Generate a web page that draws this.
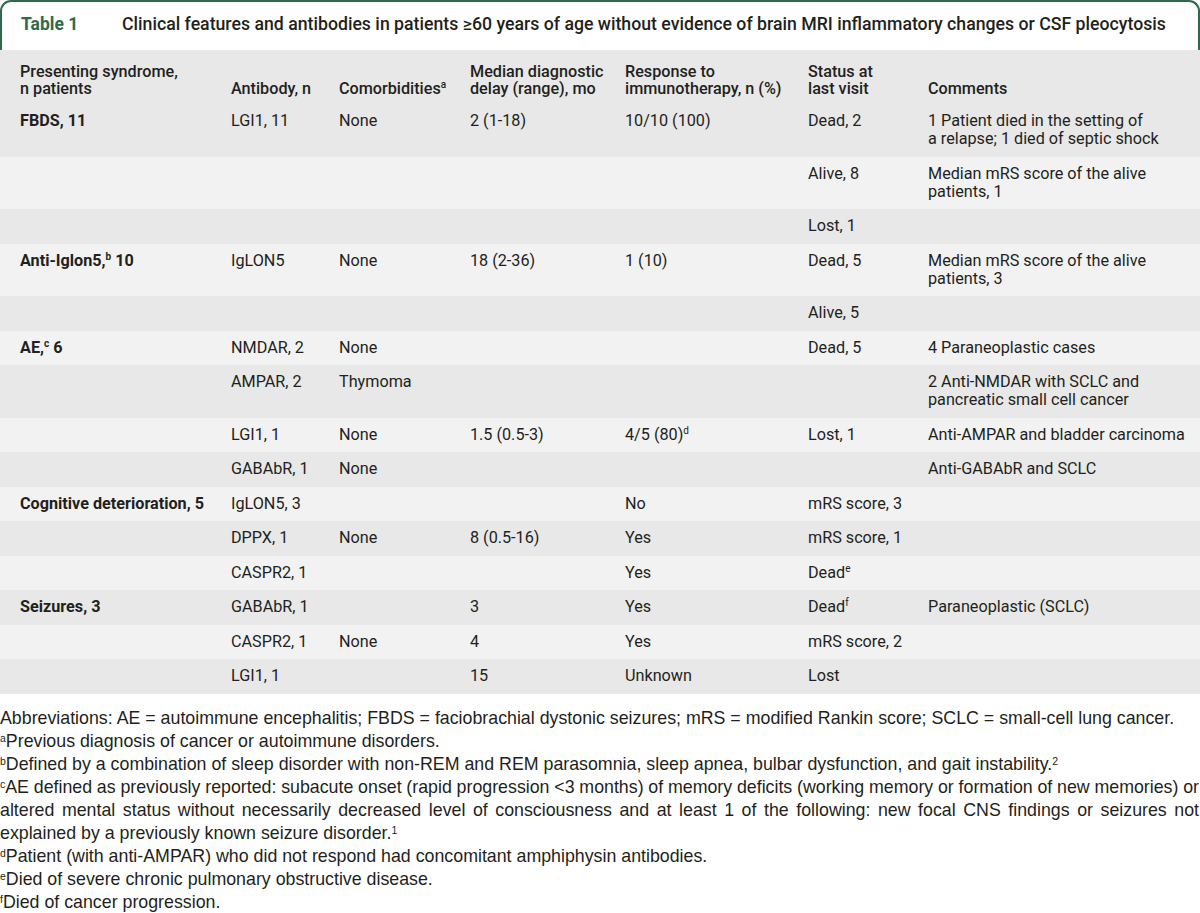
<!DOCTYPE html>
<html>
<head>
<meta charset="utf-8">
<script src="https://cdn.jsdelivr.net/npm/chart.js@4.4.1/dist/chart.umd.min.js"></script>
<style>
  html, body { margin: 0; padding: 0; background: #fff; }
  body { width: 1200px; height: 913px; overflow: hidden; font-family: Roboto, "Noto Sans", sans-serif; color: #231f20; }
  .title {
    box-sizing: border-box; height: 50px; border: 2px solid #2f6b4b; border-bottom: none;
    border-radius: 11px 11px 0 0; position: relative;
  }
  .title .num { position: absolute; left: 19px; top: 12px; color: #2f6b4b; font-weight: 700; font-size: 17.5px; }
  .title .txt { position: absolute; left: 120px; top: 12px; font-weight: 500; font-size: 17.7px; }
  table { border-collapse: collapse; table-layout: fixed; width: 1200px; font-size: 16.2px; }
  td, th { padding: 8px 0 8.5px 0; line-height: 18px; vertical-align: top; text-align: left; font-weight: 400; white-space: nowrap; }
  th { font-weight: 500; vertical-align: bottom; padding: 13px 0 7px 0; line-height: 17px; }
  td:first-child, th:first-child { padding-left: 20px; }
  tr:nth-child(odd) { background: #e7e8e7; }
  tr:nth-child(even) { background: #f2f2f2; }
  td.syn { font-weight: 700; }
  sup { font-size: 10px; line-height: 0; vertical-align: 6px; }
  .notes { margin-top: 13px; font-family: "Liberation Sans", Arial, sans-serif; font-size: 17.8px; line-height: 23px; color: #231f20; }
  .notes p { margin: 0; }
  .notes .jl { display: block; width: 1199px; white-space: nowrap; text-align: justify; text-align-last: justify; }
  .notes .jl.first { word-spacing: -1px; }
  .notes .jl.last { text-align: left; text-align-last: auto; }
  .notes sup { font-size: 10.5px; vertical-align: 5px; }
</style>
</head>
<body>
<div class="title"><span class="num">Table 1</span><span class="txt" id="ttl"></span></div>
<table id="tbl">
  <colgroup>
    <col style="width:231px"><col style="width:108px"><col style="width:131px"><col style="width:155px">
    <col style="width:183px"><col style="width:120px"><col style="width:272px">
  </colgroup>
  <thead></thead>
  <tbody></tbody>
</table>
<div class="notes" id="notes"></div>
<script>
const titleText = 'Clinical features and antibodies in patients \u226560 years of age without evidence of brain MRI inflammatory changes or CSF pleocytosis';

const headers = ['Presenting syndrome,<br>n patients', 'Antibody, n', 'Comorbidities<sup>a</sup>',
  'Median diagnostic<br>delay (range), mo', 'Response to<br>immunotherapy, n (%)', 'Status at<br>last visit', 'Comments'];

// one entry per table row
const syndromes = ['FBDS, 11', '', '', 'Anti-Iglon5,<sup>b</sup> 10', '', 'AE,<sup>c</sup> 6', '', '', '',
  'Cognitive deterioration, 5', '', '', 'Seizures, 3', '', ''];
const antibodies = ['LGI1, 11', '', '', 'IgLON5', '', 'NMDAR, 2', 'AMPAR, 2', 'LGI1, 1', 'GABAbR, 1',
  'IgLON5, 3', 'DPPX, 1', 'CASPR2, 1', 'GABAbR, 1', 'CASPR2, 1', 'LGI1, 1'];
const comorbidities = ['None', '', '', 'None', '', 'None', 'Thymoma', 'None', 'None',
  '', 'None', '', '', 'None', ''];
const delays = ['2 (1-18)', '', '', '18 (2-36)', '', '', '', '1.5 (0.5-3)', '',
  '', '8 (0.5-16)', '', '3', '4', '15'];
const responses = ['10/10 (100)', '', '', '1 (10)', '', '', '', '4/5 (80)<sup>d</sup>', '',
  'No', 'Yes', 'Yes', 'Yes', 'Yes', 'Unknown'];
const statuses = ['Dead, 2', 'Alive, 8', 'Lost, 1', 'Dead, 5', 'Alive, 5', 'Dead, 5', '', 'Lost, 1', '',
  'mRS score, 3', 'mRS score, 1', 'Dead<sup>e</sup>', 'Dead<sup>f</sup>', 'mRS score, 2', 'Lost'];
const comments = ['1 Patient died in the setting of<br>a relapse; 1 died of septic shock',
  'Median mRS score of the alive<br>patients, 1', '', 'Median mRS score of the alive<br>patients, 3', '',
  '4 Paraneoplastic cases', '2 Anti-NMDAR with SCLC and<br>pancreatic small cell cancer',
  'Anti-AMPAR and bladder carcinoma', 'Anti-GABAbR and SCLC', '', '', '', 'Paraneoplastic (SCLC)', '', ''];

// footnote c is split into its three printed lines (justified like the journal)
const footnoteC = [
  '<sup>c</sup>AE defined as previously reported: subacute onset (rapid progression &lt;3 months) of memory deficits (working memory or formation of new memories) or',
  'altered mental status without necessarily decreased level of consciousness and at least 1 of the following: new focal CNS findings or seizures not',
  'explained by a previously known seizure disorder.<sup>1</sup>'
];
const footnotes = [
  'Abbreviations: AE = autoimmune encephalitis; FBDS = faciobrachial dystonic seizures; mRS = modified Rankin score; SCLC = small-cell lung cancer.',
  '<sup>a</sup>Previous diagnosis of cancer or autoimmune disorders.',
  '<sup>b</sup>Defined by a combination of sleep disorder with non-REM and REM parasomnia, sleep apnea, bulbar dysfunction, and gait instability.<sup>2</sup>',
  footnoteC,
  '<sup>d</sup>Patient (with anti-AMPAR) who did not respond had concomitant amphiphysin antibodies.',
  '<sup>e</sup>Died of severe chronic pulmonary obstructive disease.',
  '<sup>f</sup>Died of cancer progression.'
];

document.getElementById('ttl').textContent = titleText;

const thead = document.querySelector('#tbl thead');
thead.innerHTML = '<tr>' + headers.map(h => `<th>${h}</th>`).join('') + '</tr>';

const tbody = document.querySelector('#tbl tbody');
syndromes.forEach((s, i) => {
  const cells = [s, antibodies[i], comorbidities[i], delays[i], responses[i], statuses[i], comments[i]];
  const tr = document.createElement('tr');
  tr.innerHTML = cells.map((c, j) => `<td${j === 0 ? ' class="syn"' : ''}>${c}</td>`).join('');
  tbody.appendChild(tr);
});

document.getElementById('notes').innerHTML = footnotes.map(f => {
  if (Array.isArray(f)) {
    return '<p>' + f.map((line, k) => {
      const cls = k === 0 ? 'jl first' : (k === f.length - 1 ? 'jl last' : 'jl');
      return `<span class="${cls}">${line}</span>`;
    }).join('') + '</p>';
  }
  return `<p>${f}</p>`;
}).join('');
</script>
</body>
</html>
